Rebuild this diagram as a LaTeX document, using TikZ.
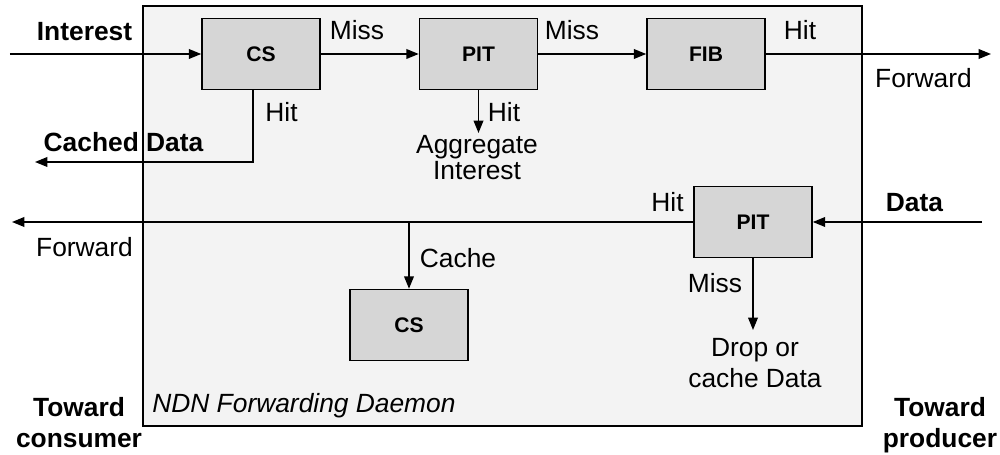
\documentclass[tikz,border=0pt]{standalone}
\usepackage{fontspec}
\setmainfont{Liberation Sans}
\usetikzlibrary{arrows.meta}

\definecolor{daemonfill}{HTML}{F3F3F3}
\definecolor{tablefill}{HTML}{D6D6D6}

\begin{document}
\begin{tikzpicture}[
  tablebox/.style={draw, line width=0.9pt, fill=tablefill, minimum width=2.36cm, minimum height=1.42cm, font=\fontsize{12}{14}\selectfont\bfseries},
  lbl/.style={font=\fontsize{15}{17.5}\selectfont, inner sep=0pt},
  lblb/.style={lbl, font=\fontsize{15}{17.5}\selectfont\bfseries},
  arr/.style={-{Triangle[length=7pt,width=5.5pt]}, line width=0.8pt},
]
\useasboundingbox (0,0) rectangle (20,9.1);

% Forwarding daemon
\draw[line width=1.4pt, fill=daemonfill] (2.86,0.58) rectangle (17.24,8.98);
\node[lbl, anchor=base west] (daemon) at (3.04,0.84) {\itshape NDN Forwarding Daemon};

% Interest path
\node[tablebox] (cs) at (5.22,8.02) {CS};
\node[tablebox] (pit) at (9.57,8.02) {PIT};
\node[tablebox] (fib) at (14.12,8.02) {FIB};

\coordinate (intin) at (0.2,8.02);
\coordinate (intout) at (19.82,8.02);
\coordinate (cachedout) at (0.7,5.86);
\coordinate (aggr) at (9.57,6.44);

\draw[arr] (intin) -- (cs);
\draw[arr] (cs) -- (pit);
\draw[arr] (pit) -- (fib);
\draw[arr] (fib) -- (intout);
\draw[arr] ([xshift=-0.16cm]cs.south) |- (cachedout);
\draw[arr] (pit) -- (aggr);

\node[lblb, anchor=base] (interest) at (1.69,8.29) {Interest};
\node[lbl, anchor=base] (missa) at (7.14,8.3) {Miss};
\node[lbl, anchor=base] (missb) at (11.44,8.3) {Miss};
\node[lbl, anchor=base] (hitfib) at (16.0,8.3) {Hit};
\node[lbl, anchor=base] (fwdright) at (18.47,7.34) {Forward};
\node[lbl, anchor=base] (hitcs) at (5.63,6.66) {Hit};
\node[lblb, anchor=base] (cached) at (2.47,6.06) {Cached Data};
\node[lbl, anchor=base] (hitpit) at (10.08,6.66) {Hit};
\node[lbl, font=\fontsize{15}{15}\selectfont, anchor=north, align=center] (aggregate) at (9.54,6.4) {Aggregate\\Interest};

% Data path
\node[tablebox] (pitdata) at (15.06,4.66) {PIT};
\node[tablebox] (csdata) at (8.18,2.6) {CS};

\coordinate (datain) at (19.64,4.66);
\coordinate (dataout) at (0.24,4.66);
\coordinate (split) at (csdata |- pitdata);
\coordinate (drop) at (15.06,2.5);

\draw[arr] (datain) -- (pitdata);
\draw[arr] (pitdata) -- (dataout);
\draw[arr] (split) -- (csdata);
\draw[arr] (pitdata) -- (drop);

\node[lblb, anchor=base] (data) at (18.29,4.86) {Data};
\node[lbl, anchor=base] (hitdata) at (13.35,4.86) {Hit};
\node[lbl, anchor=base] (fwdleft) at (1.69,3.96) {Forward};
\node[lbl, anchor=base] (cache) at (9.16,3.74) {Cache};
\node[lbl, anchor=base] (missdata) at (14.3,3.24) {Miss};
\node[lbl, anchor=north, align=center] (dropcache) at (15.1,2.34) {Drop or\\cache Data};

% Sides
\node[lblb, anchor=north, align=center] (consumer) at (1.58,1.16) {Toward\\consumer};
\node[lblb, anchor=north, align=center] (producer) at (18.8,1.16) {Toward\\producer};

\end{tikzpicture}
\end{document}
